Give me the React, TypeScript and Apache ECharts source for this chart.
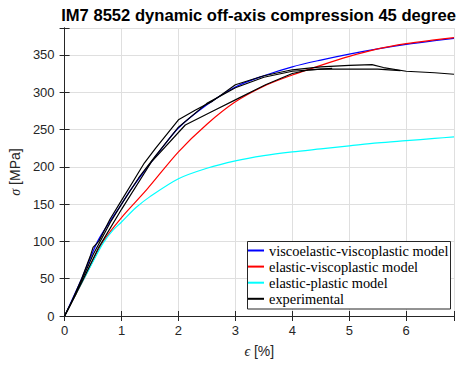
import React, { useEffect, useRef } from "react";
import * as echarts from "echarts";

const TITLE = "IM7 8552 dynamic off-axis compression 45 degree";
const LEGEND_NAMES = [
  "viscoelastic-viscoplastic model",
  "elastic-viscoplastic model",
  "elastic-plastic model",
  "experimental",
];

const X_VEVP = [0, 0.3, 0.58, 0.8, 1, 1.16, 1.68, 2, 2.5, 3, 3.5, 4, 4.5, 5, 5.5, 6, 6.5, 6.84];
const Y_VEVP = [0, 50, 100, 127, 150, 169, 222, 252, 283, 307, 322, 334, 343, 351, 358, 364, 369, 372];

const X_EVP = [0, 0.34, 0.68, 1, 1.45, 2, 2.5, 3, 3.5, 4, 4.5, 5, 5.5, 6, 6.5, 6.84];
const Y_EVP = [0, 50, 100, 132, 170, 220, 257, 287, 308, 323, 336, 348, 358, 365, 370, 373];

const X_EP = [0, 0.34, 0.5, 0.68, 0.85, 1, 1.25, 1.5, 2, 2.5, 3, 3.5, 4, 4.5, 5, 5.5, 6, 6.5, 6.84];
const Y_EP = [0, 50, 73, 98, 115, 126, 145, 160, 184, 198, 208, 215, 220, 224, 228, 232, 235, 238, 240];

const X_EXP1 = [0, 0.1, 0.3, 0.45, 0.5, 0.6, 0.8, 1.0, 1.2, 1.4, 1.6, 2.0, 2.3, 2.6, 3.0, 3.5, 4.0, 4.5, 5.0, 5.4, 5.6, 6.0, 6.5, 6.84];
const Y_EXP1 = [0, 15, 50, 80, 92, 100, 130, 155, 180, 205, 225, 263, 276, 288, 310, 322, 330, 334, 336, 337, 333, 328, 326, 324];

const X_EXP2 = [0, 0.2, 0.5, 0.8, 1, 1.3, 1.6, 2, 2.5, 3, 3.5, 4, 4.5, 5, 5.5, 5.9];
const Y_EXP2 = [0, 30, 82, 125, 150, 185, 215, 253, 285, 306, 320, 328, 331, 331, 331, 329];

const X_EXP3 = [0, 0.3, 0.6, 1, 1.53, 2.12, 2.59, 3.06, 3.53, 4.0, 4.3, 4.7];
const Y_EXP3 = [0, 45, 92, 143, 207, 256, 274, 292, 310, 325, 330, 332];

const X_MAX = 6.84;
const Y_MAX = 386;

const zip = (xs: number[], ys: number[]) => xs.map((x, i) => [x, ys[i]]);

export default function App() {
  const ref = useRef<HTMLDivElement>(null);
  useEffect(() => {
    document.body.style.margin = "0";
    if (!ref.current) return;
    const chart = echarts.init(ref.current, null, { renderer: "svg" });
    const axisColor = "#262626";
    const labelFont = "'Liberation Sans', Arial, sans-serif";
    const serifFont = "'Liberation Serif', 'Times New Roman', serif";
    const isMult = (v: number, m: number) => Math.abs(v / m - Math.round(v / m)) < 1e-6;
    const lineSeries = (name: string, data: number[][], color: string, smooth: boolean) => ({
      type: "line",
      name,
      data,
      symbol: "none",
      smooth: smooth ? 0.3 : false,
      lineStyle: { color, width: 1.2 },
      itemStyle: { color },
      z: 2,
    });
    chart.setOption({
      animation: false,
      grid: { left: 62, right: 2, top: 28, bottom: 49 },
      graphic: [
        {
          type: "text",
          x: 258.5,
          y: 15,
          style: {
            text: TITLE,
            textAlign: "center",
            textVerticalAlign: "middle",
            fontFamily: labelFont,
            fontWeight: "bold",
            fontSize: 16.6,
            fill: "#000",
          },
        },
        {
          type: "rect",
          z: 3,
          shape: { x: 247.5, y: 241.5, width: 203, height: 67.5 },
          style: { fill: "#fff", stroke: axisColor, lineWidth: 1 },
        },
      ],
      legend: {
        data: LEGEND_NAMES,
        orient: "vertical",
        left: 248,
        top: 243.5,
        padding: 0,
        itemWidth: 16,
        itemHeight: 2,
        itemGap: 2.1,
        icon: "rect",
        z: 4,
        selectedMode: false,
        textStyle: { fontFamily: serifFont, fontSize: 14.4, color: "#000" },
      },
      xAxis: [
        {
          type: "value",
          min: 0,
          max: X_MAX,
          interval: 1,
          position: "bottom",
          axisLine: { show: true, lineStyle: { color: axisColor } },
          axisTick: { show: true, inside: true, length: 5, lineStyle: { color: axisColor } },
          axisLabel: {
            color: axisColor,
            fontFamily: labelFont,
            fontSize: 13,
            margin: 8,
            formatter: (v: number) => (isMult(v, 1) ? String(Math.round(v)) : ""),
          },
          splitLine: { show: true, lineStyle: { color: "#dfdfdf" } },
          name: "{i|ϵ} [%]",
          nameLocation: "middle",
          nameGap: 28,
          nameTextStyle: {
            color: axisColor,
            fontFamily: labelFont,
            fontSize: 14,
            rich: { i: { fontFamily: serifFont, fontStyle: "italic", fontSize: 14, color: axisColor } },
          },
        },
        {
          type: "value",
          min: 0,
          max: X_MAX,
          interval: 1,
          position: "top",
          axisLine: { show: true, lineStyle: { color: axisColor } },
          axisTick: { show: true, inside: true, length: 5, lineStyle: { color: axisColor } },
          axisLabel: { show: false },
          splitLine: { show: false },
        },
      ],
      yAxis: [
        {
          type: "value",
          min: 0,
          max: Y_MAX,
          interval: 50,
          position: "left",
          axisLine: { show: true, lineStyle: { color: axisColor } },
          axisTick: { show: true, inside: true, length: 5, lineStyle: { color: axisColor } },
          axisLabel: {
            color: axisColor,
            fontFamily: labelFont,
            fontSize: 13,
            margin: 10,
            formatter: (v: number) => (isMult(v, 50) ? String(Math.round(v)) : ""),
          },
          splitLine: { show: true, lineStyle: { color: "#dfdfdf" } },
          name: "{i|σ} [MPa]",
          nameLocation: "middle",
          nameGap: 28,
          nameTextStyle: {
            color: axisColor,
            fontFamily: labelFont,
            fontSize: 14,
            rich: { i: { fontFamily: serifFont, fontStyle: "italic", fontSize: 14, color: axisColor } },
          },
        },
        {
          type: "value",
          min: 0,
          max: Y_MAX,
          interval: 50,
          position: "right",
          axisLine: { show: true, lineStyle: { color: axisColor } },
          axisTick: { show: true, inside: true, length: 5, lineStyle: { color: axisColor } },
          axisLabel: { show: false },
          splitLine: { show: false },
        },
      ],
      series: [
        lineSeries(LEGEND_NAMES[0], zip(X_VEVP, Y_VEVP), "#0000ff", true),
        lineSeries(LEGEND_NAMES[1], zip(X_EVP, Y_EVP), "#ff0000", true),
        lineSeries(LEGEND_NAMES[2], zip(X_EP, Y_EP), "#00ffff", true),
        lineSeries(LEGEND_NAMES[3], zip(X_EXP1, Y_EXP1), "#000000", false),
        lineSeries(LEGEND_NAMES[3], zip(X_EXP2, Y_EXP2), "#000000", false),
        lineSeries(LEGEND_NAMES[3], zip(X_EXP3, Y_EXP3), "#000000", false),
      ],
    });
    return () => chart.dispose();
  }, []);
  return <div ref={ref} style={{ width: 457, height: 365 }} />;
}
